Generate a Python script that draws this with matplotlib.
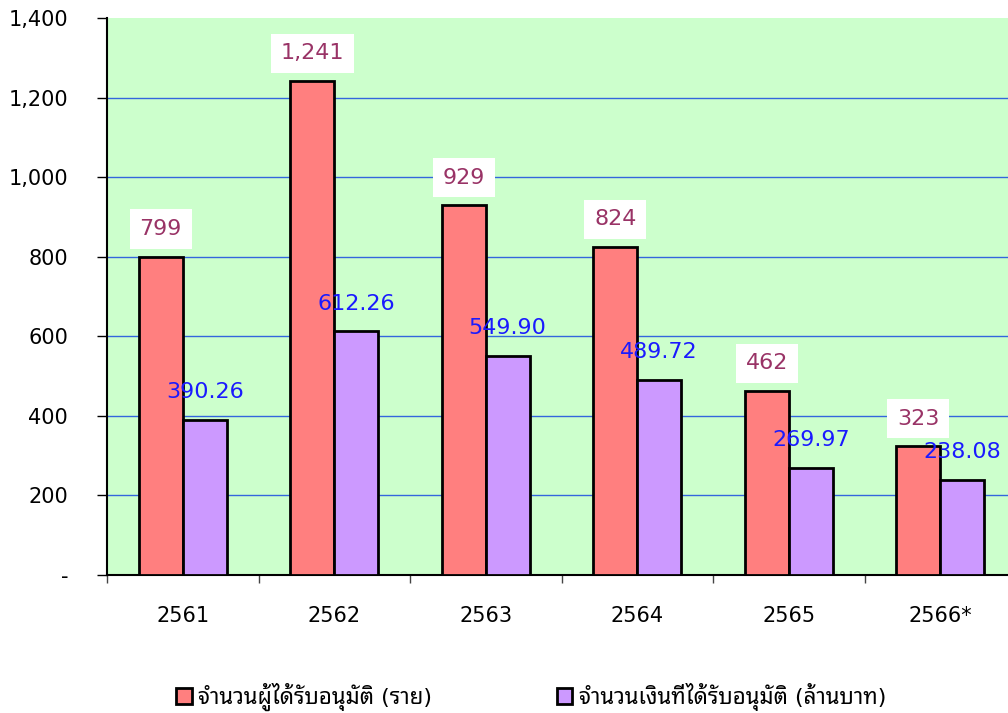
import numpy as np
import matplotlib.pyplot as plt
from matplotlib.ticker import FuncFormatter

plt.rcParams['font.family'] = ['DejaVu Sans', 'Noto Sans Thai Looped']

years = ['2561', '2562', '2563', '2564', '2565', '2566*']
approved_people = [799, 1241, 929, 824, 462, 323]
approved_money = [390.26, 612.26, 549.90, 489.72, 269.97, 238.08]
people_labels = ['799', '1,241', '929', '824', '462', '323']
money_labels = ['390.26', '612.26', '549.90', '489.72', '269.97', '238.08']
legend_names = ['จำนวนผู้ได้รับอนุมัติ (ราย)', 'จำนวนเงินที่ได้รับอนุมัติ (ล้านบาท)']

fig = plt.figure(figsize=(10.08, 7.13), dpi=100)
ax = fig.add_axes([107 / 1008, 1 - 575 / 713, 909 / 1008, 557 / 713])
ax.set_facecolor('#ccffcc')

x = np.arange(len(years))
w = 0.29
b1 = ax.bar(x - w / 2, approved_people, w, color='#ff7f7f', edgecolor='black', linewidth=2, zorder=3)
b2 = ax.bar(x + w / 2, approved_money, w, color='#cc99ff', edgecolor='black', linewidth=2, zorder=3)

# value labels: counts in white boxes, money in blue
for xi, v, s in zip(x, approved_people, people_labels):
    ax.text(xi - w / 2, v + 70, s, ha='center', va='center', fontsize=16, color='#993366',
            bbox=dict(facecolor='white', edgecolor='none', pad=7), zorder=4)
for xi, v, s in zip(x, approved_money, money_labels):
    ax.text(xi + w / 2, v + 70, s, ha='center', va='center', fontsize=16, color='#1a1aff', zorder=4)

ax.set_xlim(-0.5, len(years) - 0.5)
ax.set_ylim(0, 1400)
ax.set_yticks(range(0, 1401, 200))
ax.yaxis.set_major_formatter(FuncFormatter(lambda v, p: '-' if v == 0 else f'{int(v):,}'))
ax.grid(axis='y', color='#3366dd', linewidth=1, zorder=1)
ax.yaxis.get_gridlines()[-1].set_visible(False)
ax.set_xticks(x)
ax.set_xticklabels(years, fontsize=15)
ax.tick_params(axis='x', length=0, pad=22)
ax.set_xticks(np.arange(len(years) + 1) - 0.5, minor=True)
ax.tick_params(axis='x', which='minor', length=6, width=1, color='#444444', direction='out')
ax.tick_params(axis='y', labelsize=15, length=7, width=1, direction='out', pad=21)
for s in ['top', 'right']:
    ax.spines[s].set_visible(False)
ax.spines['left'].set_linewidth(1.5)
ax.spines['bottom'].set_linewidth(1.5)

fig.legend([b1, b2], legend_names, loc='center', bbox_to_anchor=(0.527, 1 - 697 / 713), ncol=2,
           frameon=False, fontsize=16, handlelength=0.7, handleheight=0.7, columnspacing=5.6,
           handletextpad=0.3)

fig.savefig('out.png', dpi=100)
